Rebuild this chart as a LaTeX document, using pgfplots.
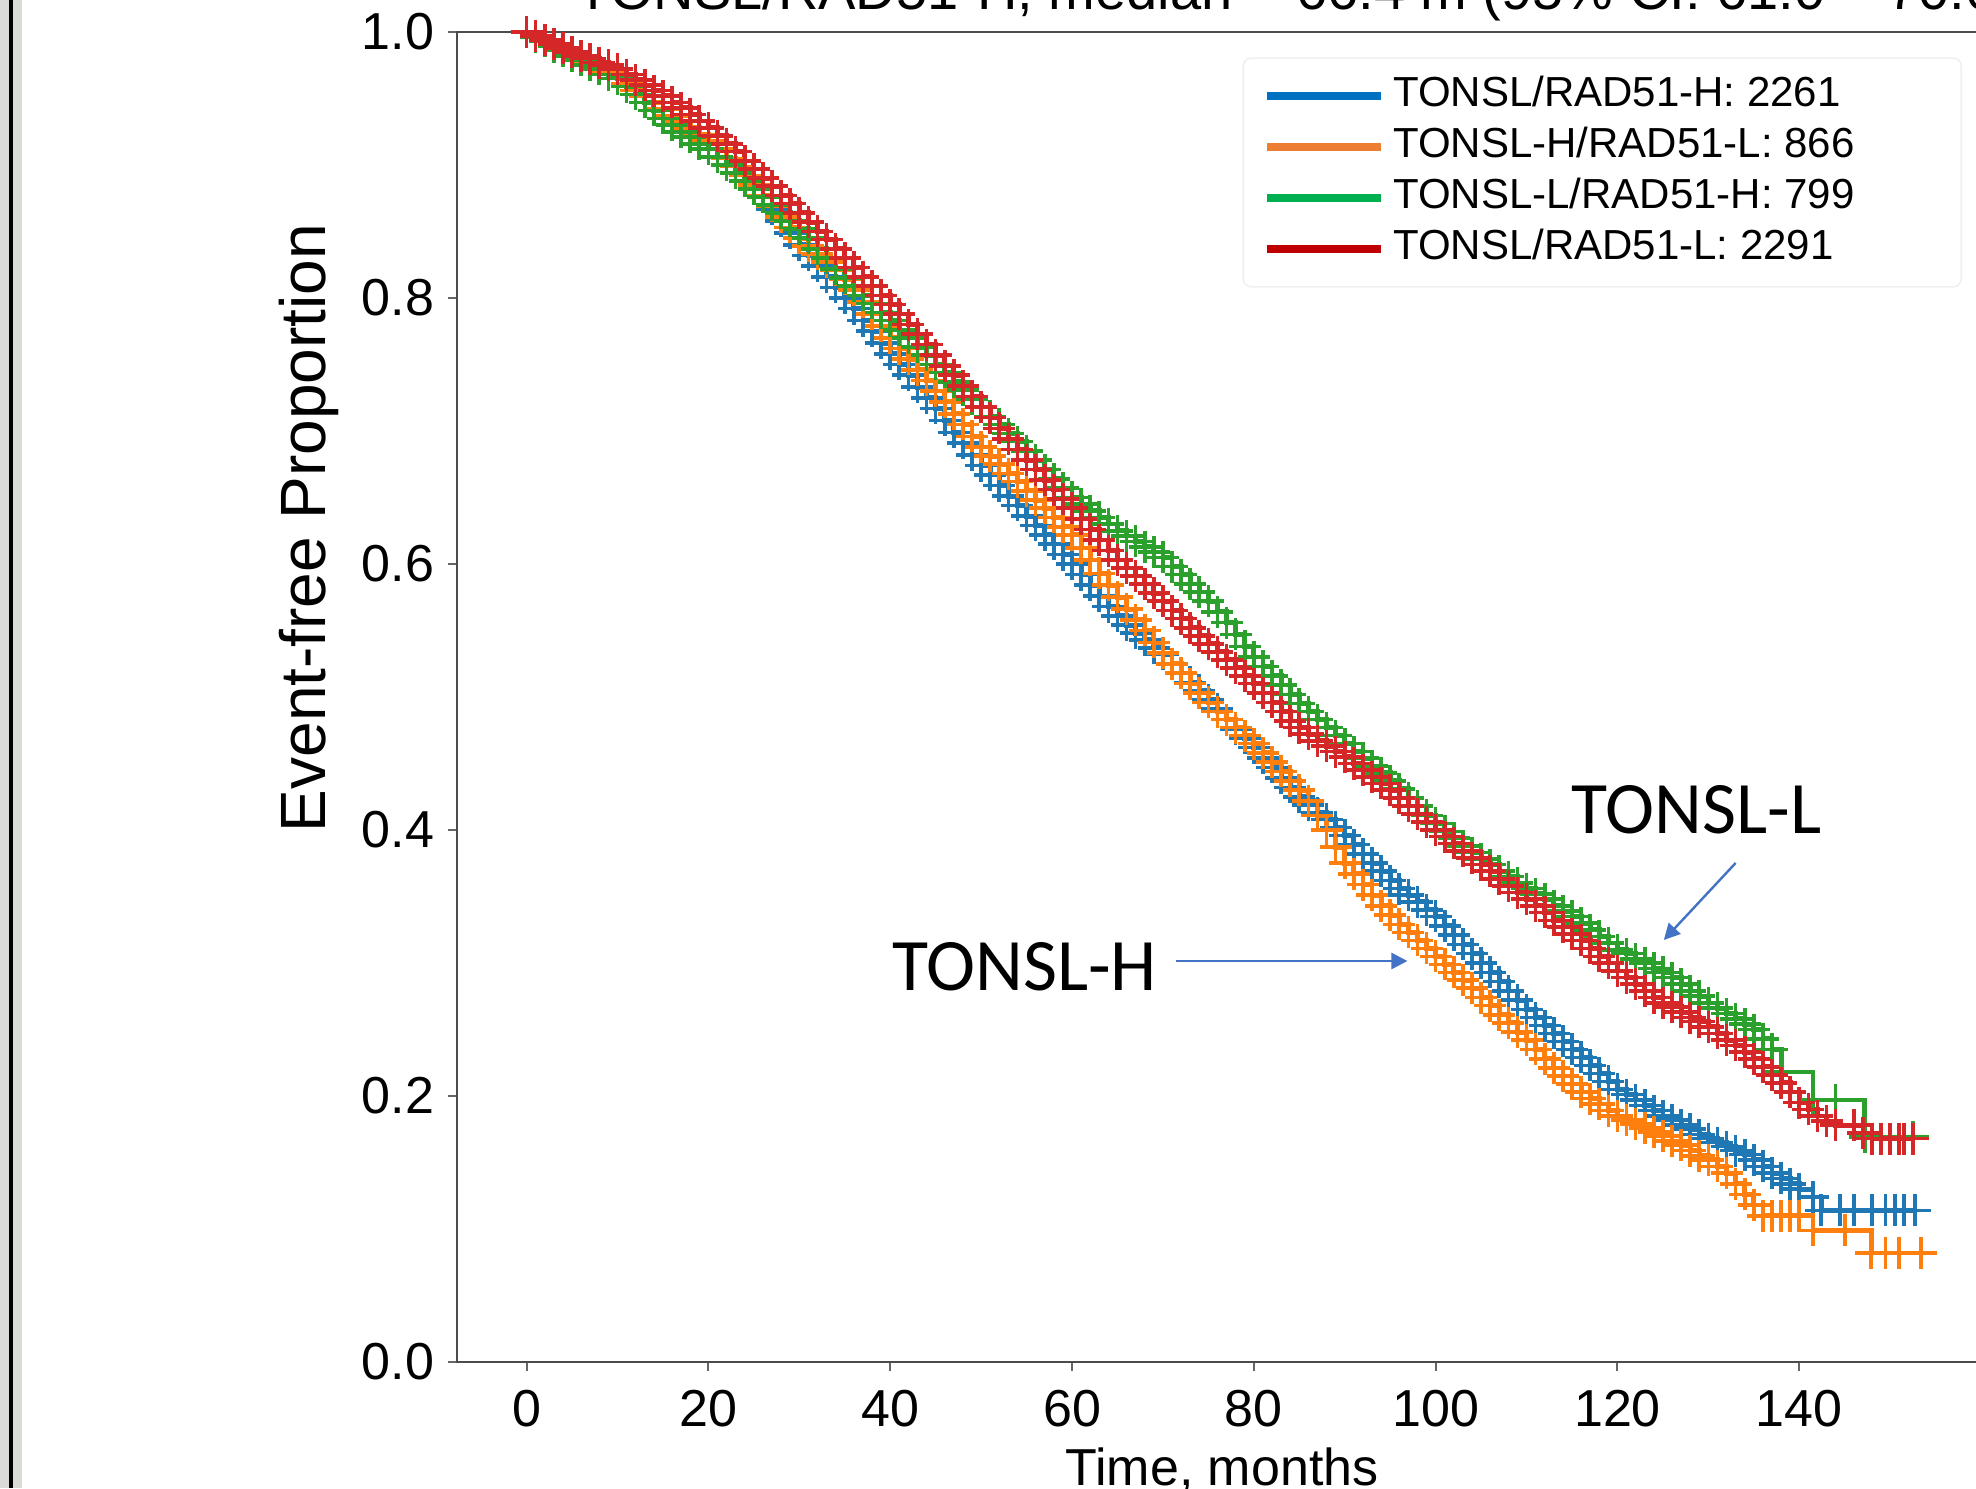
\documentclass[border=0pt]{standalone}
\usepackage{pgfplots}
\pgfplotsset{compat=1.18}
\usepackage{fontspec}
\setmainfont{Liberation Sans}
\newfontfamily\calibri{Carlito}
\usetikzlibrary{arrows.meta}

\definecolor{kmblue}{HTML}{1F77B4}
\definecolor{kmorange}{HTML}{FF7F0E}
\definecolor{kmgreen}{HTML}{2CA02C}
\definecolor{kmred}{HTML}{D62728}
\definecolor{legblue}{HTML}{0070C0}
\definecolor{legorange}{HTML}{ED7D31}
\definecolor{leggreen}{HTML}{00B050}
\definecolor{legred}{HTML}{C00000}
\definecolor{annblue}{HTML}{4472C4}
\definecolor{frameg}{HTML}{DCDAD6}

\begin{document}
\begin{tikzpicture}
\begin{axis}[
    scale only axis,
    width=382.5pt, height=332.5pt,
    xmin=-7.65, xmax=160.65, ymin=0, ymax=1,
    xtick={0,20,40,60,80,100,120,140},
    ytick={0,0.2,0.4,0.6,0.8,1.0},
    yticklabel style={/pgf/number format/.cd, fixed, fixed zerofill, precision=1},
    xticklabel style={yshift=-1.25pt},
    /pgf/number format/assume math mode=true,
    tick label style={font=\fontsize{13}{15}\selectfont},
    xtick pos=bottom, ytick pos=left,
    tick align=outside,
    major tick length=2.2pt,
    tick style={black!60, line width=0.5pt},
    axis line style={black!70, line width=0.7pt},
    xlabel={Time, months},
    xlabel style={font=\fontsize{13}{15}\selectfont, at={(axis description cs:0.5,0)}, anchor=base, yshift=-30.75pt},
    ylabel={Event-free Proportion},
    ylabel style={font=\fontsize{16}{18}\selectfont, at={(axis description cs:-0.0967,0.627)}, anchor=center},
    every axis plot/.append style={const plot, line width=1.2pt, mark=+, mark size=4pt, mark options={line width=0.9pt}},
    legend image code/.code={\draw[#1, line width=2pt] (0pt,0pt) -- (28.5pt,0pt);},
    legend cell align=left,
    legend style={at={(axis description cs:0.9837,0.981)}, anchor=north east,
        draw=black!6, rounded corners=2pt, fill=white,
        font=\fontsize{10.5}{12}\selectfont,
        inner xsep=5pt, inner ysep=3pt, row sep=0pt,
        nodes={text height=7.6pt, text depth=2.4pt, inner ysep=1.4pt}},
]
% TONSL/RAD51-H (blue)
\addplot[color=kmblue, forget plot] table {
x y
0 1.000
1 0.997
2 0.994
3 0.990
4 0.987
5 0.984
6 0.980
7 0.977
8 0.973
9 0.969
10 0.965
11 0.961
12 0.956
13 0.952
14 0.947
15 0.942
16 0.937
17 0.933
18 0.928
19 0.923
20 0.918
21 0.912
22 0.905
23 0.899
24 0.892
25 0.884
26 0.876
27 0.867
28 0.858
29 0.849
30 0.840
31 0.832
32 0.824
33 0.816
34 0.808
35 0.800
36 0.792
37 0.783
38 0.775
39 0.766
40 0.758
41 0.750
42 0.742
43 0.733
44 0.725
45 0.717
46 0.708
47 0.699
48 0.691
49 0.682
50 0.674
51 0.667
52 0.659
53 0.651
54 0.644
55 0.636
56 0.629
57 0.622
58 0.615
59 0.607
60 0.600
61 0.592
62 0.584
63 0.576
64 0.568
65 0.561
66 0.554
67 0.548
68 0.543
69 0.537
70 0.532
71 0.525
72 0.518
73 0.511
74 0.505
75 0.498
76 0.491
77 0.483
78 0.476
79 0.469
80 0.462
81 0.454
82 0.447
83 0.439
84 0.432
85 0.425
86 0.419
87 0.413
88 0.408
89 0.402
90 0.396
91 0.389
92 0.382
93 0.375
94 0.369
95 0.362
96 0.356
97 0.351
98 0.346
99 0.340
100 0.335
101 0.328
102 0.321
103 0.314
104 0.307
105 0.300
106 0.293
107 0.286
108 0.279
109 0.272
110 0.265
111 0.259
112 0.253
113 0.247
114 0.241
115 0.235
116 0.229
117 0.223
118 0.217
119 0.211
120 0.205
121 0.201
122 0.197
123 0.193
124 0.189
125 0.185
126 0.182
127 0.178
128 0.175
129 0.171
130 0.168
131 0.165
132 0.162
133 0.159
134 0.156
135 0.152
136 0.147
137 0.142
138 0.138
139 0.134
140 0.130
141.5 0.124
142.4 0.114
144.5 0.114
146 0.114
148 0.114
149.5 0.114
150.5 0.114
151.5 0.114
152.7 0.114
};
% TONSL-H/RAD51-L (orange)
\addplot[color=kmorange, forget plot] table {
x y
0 1.000
1 0.997
2 0.994
3 0.990
4 0.987
5 0.984
6 0.980
7 0.977
8 0.973
9 0.969
10 0.965
11 0.961
12 0.956
13 0.952
14 0.947
15 0.942
16 0.937
17 0.933
18 0.928
19 0.923
20 0.918
21 0.912
22 0.905
23 0.899
24 0.892
25 0.885
26 0.877
27 0.869
28 0.861
29 0.853
30 0.845
31 0.839
32 0.833
33 0.827
34 0.821
35 0.814
36 0.806
37 0.797
38 0.788
39 0.779
40 0.770
41 0.762
42 0.754
43 0.746
44 0.738
45 0.730
46 0.722
47 0.713
48 0.705
49 0.696
50 0.688
51 0.681
52 0.675
53 0.668
54 0.662
55 0.655
56 0.648
57 0.642
58 0.635
59 0.628
60 0.622
61 0.612
62 0.603
63 0.593
64 0.584
65 0.575
66 0.566
67 0.558
68 0.550
69 0.541
70 0.533
71 0.525
72 0.518
73 0.510
74 0.503
75 0.496
76 0.489
77 0.483
78 0.477
79 0.471
80 0.465
81 0.458
82 0.451
83 0.444
84 0.437
85 0.430
86 0.422
87 0.411
88 0.400
89 0.387
90 0.375
91 0.367
92 0.359
93 0.351
94 0.343
95 0.336
96 0.329
97 0.323
98 0.317
99 0.311
100 0.305
101 0.299
102 0.293
103 0.287
104 0.281
105 0.274
106 0.268
107 0.261
108 0.255
109 0.248
110 0.242
111 0.235
112 0.228
113 0.221
114 0.215
115 0.209
116 0.203
117 0.198
118 0.194
119 0.189
120 0.185
121 0.182
122 0.179
123 0.176
124 0.173
125 0.170
126 0.166
127 0.163
128 0.159
129 0.155
130 0.152
131 0.147
132 0.142
133 0.134
134 0.126
135 0.118
136 0.110
137 0.110
138 0.110
139 0.110
140 0.110
141.5 0.099
145 0.099
147.9 0.082
149.5 0.082
151 0.082
153.4 0.082
};
% TONSL-L/RAD51-H (green)
\addplot[color=kmgreen, forget plot] table {
x y
0 1.000
1 0.996
2 0.993
3 0.989
4 0.986
5 0.982
6 0.979
7 0.975
8 0.972
9 0.968
10 0.965
11 0.959
12 0.953
13 0.947
14 0.941
15 0.935
16 0.930
17 0.925
18 0.921
19 0.916
20 0.912
21 0.906
22 0.900
23 0.894
24 0.888
25 0.882
26 0.876
27 0.870
28 0.864
29 0.858
30 0.852
31 0.845
32 0.837
33 0.830
34 0.822
35 0.815
36 0.809
37 0.802
38 0.796
39 0.789
40 0.783
41 0.776
42 0.770
43 0.763
44 0.757
45 0.750
46 0.744
47 0.737
48 0.731
49 0.724
50 0.718
51 0.711
52 0.705
53 0.698
54 0.692
55 0.685
56 0.678
57 0.671
58 0.664
59 0.657
60 0.650
61 0.645
62 0.640
63 0.635
64 0.630
65 0.625
66 0.621
67 0.617
68 0.613
69 0.609
70 0.605
71 0.598
72 0.592
73 0.585
74 0.579
75 0.572
76 0.564
77 0.556
78 0.547
79 0.538
80 0.530
81 0.523
82 0.516
83 0.509
84 0.502
85 0.495
86 0.489
87 0.483
88 0.477
89 0.471
90 0.465
91 0.459
92 0.454
93 0.448
94 0.443
95 0.437
96 0.431
97 0.424
98 0.418
99 0.411
100 0.405
101 0.399
102 0.394
103 0.388
104 0.383
105 0.378
106 0.374
107 0.369
108 0.365
109 0.360
110 0.356
111 0.352
112 0.348
113 0.343
114 0.339
115 0.335
116 0.330
117 0.325
118 0.320
119 0.315
120 0.310
121 0.307
122 0.303
123 0.300
124 0.296
125 0.293
126 0.289
127 0.284
128 0.279
129 0.275
130 0.270
131 0.266
132 0.262
133 0.258
134 0.254
135 0.250
136 0.243
137 0.235
138 0.218
141.5 0.197
144 0.197
147.2 0.169
152.5 0.169
};
% TONSL/RAD51-L (red)
\addplot[color=kmred, forget plot] table {
x y
0 1.000
1 0.997
2 0.994
3 0.991
4 0.988
5 0.985
6 0.982
7 0.980
8 0.977
9 0.975
10 0.972
11 0.968
12 0.964
13 0.960
14 0.956
15 0.952
16 0.947
17 0.943
18 0.938
19 0.933
20 0.928
21 0.922
22 0.916
23 0.910
24 0.903
25 0.897
26 0.890
27 0.884
28 0.877
29 0.871
30 0.864
31 0.857
32 0.850
33 0.844
34 0.837
35 0.830
36 0.823
37 0.816
38 0.809
39 0.802
40 0.795
41 0.788
42 0.780
43 0.773
44 0.765
45 0.757
46 0.749
47 0.742
48 0.734
49 0.726
50 0.718
51 0.710
52 0.702
53 0.694
54 0.686
55 0.678
56 0.671
57 0.663
58 0.656
59 0.649
60 0.642
61 0.634
62 0.626
63 0.618
64 0.610
65 0.603
66 0.597
67 0.591
68 0.585
69 0.578
70 0.572
71 0.565
72 0.559
73 0.552
74 0.546
75 0.540
76 0.534
77 0.528
78 0.522
79 0.516
80 0.510
81 0.503
82 0.496
83 0.489
84 0.482
85 0.477
86 0.472
87 0.467
88 0.463
89 0.459
90 0.455
91 0.450
92 0.445
93 0.440
94 0.435
95 0.430
96 0.424
97 0.418
98 0.412
99 0.406
100 0.400
101 0.395
102 0.390
103 0.384
104 0.379
105 0.374
106 0.369
107 0.363
108 0.358
109 0.353
110 0.348
111 0.343
112 0.338
113 0.332
114 0.327
115 0.322
116 0.317
117 0.311
118 0.305
119 0.300
120 0.294
121 0.289
122 0.284
123 0.279
124 0.274
125 0.270
126 0.267
127 0.263
128 0.259
129 0.256
130 0.252
131 0.247
132 0.242
133 0.238
134 0.233
135 0.228
136 0.222
137 0.216
138 0.210
139 0.203
140 0.195
141 0.190
142 0.185
143 0.181
144 0.178
146 0.178
147 0.172
148 0.168
149 0.168
150 0.168
151 0.168
151.5 0.168
152.5 0.168
};
\addlegendimage{color=legblue}
\addlegendentry{\makebox[135pt][l]{TONSL/RAD51-H: 2261}}
\addlegendimage{color=legorange}
\addlegendentry{TONSL-H/RAD51-L: 866}
\addlegendimage{color=leggreen}
\addlegendentry{TONSL-L/RAD51-H: 799}
\addlegendimage{color=legred}
\addlegendentry{TONSL/RAD51-L: 2291}

\node[anchor=base west, font=\calibri\fontsize{18.5}{20}\selectfont] at (axis cs:38.7,0.2797) {TONSL-H};
\node[anchor=base west, font=\calibri\fontsize{18.5}{20}\selectfont] at (axis cs:113.4,0.3977) {TONSL-L};
\draw[annblue, line width=0.6pt, -{Triangle[length=4pt,width=4pt]}] (axis cs:71.4,0.3015) -- (axis cs:96.9,0.3015);
\draw[annblue, line width=0.6pt, -{Triangle[length=4pt,width=4pt]}] (axis cs:133.0,0.3752) -- (axis cs:125.1,0.3173);
\end{axis}
% title, cut off by the top edge of the screenshot
\node[anchor=base west, font=\fontsize{14}{16}\selectfont, inner sep=0pt] at (29.75pt,338pt) {TONSL/RAD51-H, median = 66.4 m (95\% CI: 61.0 -- 70.6 m)};
% window border on the left of the screenshot
\fill[frameg] (-114.25pt,-31.5pt) rectangle (-108.75pt,340.5pt);
\fill[black] (-112.1pt,-31.5pt) rectangle (-111.1pt,340.5pt);
\pgfresetboundingbox
\useasboundingbox (-114.25pt,-31.5pt) rectangle (379.75pt,340.5pt);
\end{tikzpicture}
\end{document}
